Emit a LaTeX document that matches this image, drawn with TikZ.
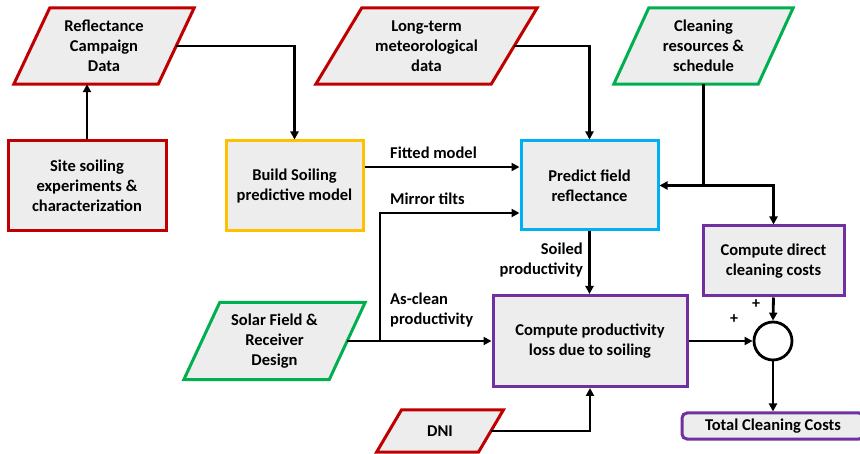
\documentclass[tikz,border=0pt]{standalone}
\usepackage{fontspec}
\setmainfont{Carlito}
\usetikzlibrary{arrows.meta}
\definecolor{boxgray}{HTML}{EDEDED}
\definecolor{cred}{HTML}{C00000}
\definecolor{cyel}{HTML}{FFC000}
\definecolor{cblue}{HTML}{00B0F0}
\definecolor{cgreen}{HTML}{00B050}
\definecolor{cpurp}{HTML}{7030A0}
\pgfdeclarelayer{bg}
\pgfsetlayers{bg,main}
\newcommand\mypara[3]{\begin{pgfonlayer}{bg}\draw[line width=3pt,draw=#3,fill=boxgray,line join=miter] ([xshift=#2]#1.north west) -- ([xshift=#2]#1.north east) -- ([xshift=-#2]#1.south east) -- ([xshift=-#2]#1.south west) -- cycle;\end{pgfonlayer}}
\tikzset{
  x=1pt,y=-1pt,
  every node/.style={font=\fontsize{16.5}{20}\selectfont\bfseries, align=center, inner sep=0pt},
  box/.style={draw=#1, line width=3pt, fill=boxgray},
  lbl/.style={font=\fontsize{16.5}{20}\selectfont\bfseries},
  arr/.style={line width=2.8pt, -{Triangle[length=8pt,width=8pt]}},
}
\begin{document}
\begin{tikzpicture}
\useasboundingbox (0,0) rectangle (860,454);
% parallelograms
\node[minimum width=144pt, minimum height=76pt] (refl) at (104,46) {Reflectance\\Campaign\\Data};
\mypara{refl}{18pt}{cred}
\node[minimum width=175pt, minimum height=76pt] (met) at (426.5,46) {Long-term\\meteorological\\data};
\mypara{met}{23pt}{cred}
\node[minimum width=144pt, minimum height=76pt] (clean) at (703.5,46) {Cleaning\\resources \&\\schedule};
\mypara{clean}{17.5pt}{cgreen}
\node[minimum width=145pt, minimum height=77pt] (solar) at (274.5,341) {Solar Field \&\\Receiver\\Design};
\mypara{solar}{18pt}{cgreen}
\node[minimum width=101.5pt, minimum height=42pt] (dni) at (440,431) {DNI};
\mypara{dni}{12.5pt}{cred}
% boxes
\node[box=cred, minimum width=158pt, minimum height=90pt] (site) at (87,186) {Site soiling\\experiments \&\\characterization};
\node[box=cyel, minimum width=137pt, minimum height=90pt] (build) at (294.5,186) {Build Soiling\\predictive model};
\node[box=cblue, minimum width=137pt, minimum height=89pt] (pred) at (589.5,185.5) {Predict field\\reflectance};
\node[box=cpurp, minimum width=194pt, minimum height=91pt] (prod) at (590,341) {Compute productivity\\loss due to soiling};
\node[box=cpurp, minimum width=141pt, minimum height=70pt] (direct) at (773.5,261) {Compute direct\\cleaning costs};
\node[box=cpurp, rounded corners=5pt, minimum width=182pt, minimum height=26pt] (total) at (773,426) {Total Cleaning Costs};
\node[draw, line width=2.8pt, circle, minimum size=38pt, fill=white] (sum) at (773,341) {};
% labels
\node[lbl, anchor=west] (lfit) at (390,153) {Fitted model};
\node[lbl, anchor=west] (ltilt) at (390,199) {Mirror tilts};
\node[lbl, anchor=west, align=left] (lclean) at (390,310) {As-clean\\productivity};
\node[lbl, anchor=east, align=right] (lsoil) at (583,260) {Soiled\\productivity};
\node[font=\fontsize{16}{18}\selectfont\bfseries] (p1) at (756,304) {+};
\node[font=\fontsize{16}{18}\selectfont\bfseries] (p2) at (734,319) {+};
% connectors
\coordinate (split) at (380,341);
\draw[arr] (site.north) -- (site.north |- refl.south);
\draw[arr] (refl.east) -| (build.north);
\draw[arr] (met.east) -| (pred.north);
\draw[arr] ([yshift=19pt]build.east) -- ([yshift=19pt]build.east -| pred.west);
\draw[arr] (solar.east) -- (prod.west);
\draw[arr] (split) |- ([yshift=-27.5pt]pred.west);
\draw[arr] (clean.south) |- (pred.east);
\draw[arr] (clean.south |- pred.east) -| (direct.north);
\draw[arr] (pred.south) -- (pred.south |- prod.north);
\draw[arr] (prod.east) -- (sum.west);
\draw[arr] (direct.south) -- (sum.north);
\draw[arr] (sum.south) -- (sum.south |- total.north);
\draw[arr] (dni.east) -| (prod.south);
\end{tikzpicture}
\end{document}
